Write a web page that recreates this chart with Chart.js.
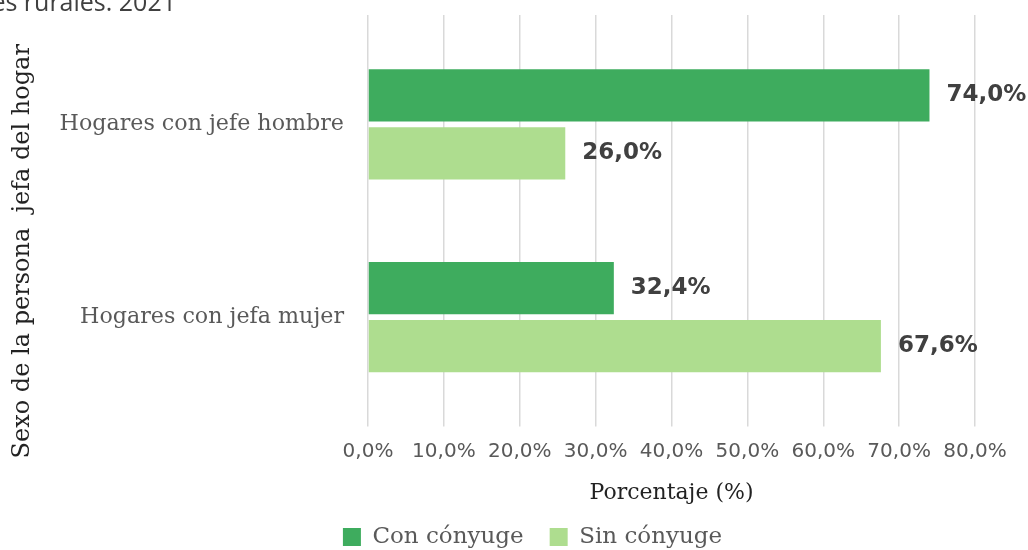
<!DOCTYPE html>
<html>
<head>
<meta charset="utf-8">
<script src="https://cdn.jsdelivr.net/npm/chart.js@4"></script>
<style>
  html, body { margin: 0; padding: 0; background: #fff; overflow: hidden; }
  #wrap { position: relative; width: 1028px; height: 550px; overflow: hidden; }
  #title {
    position: absolute; left: -600px; width: 776px; top: -12px;
    text-align: right; white-space: nowrap;
    font: 25px/26px "Open Sans", sans-serif; color: #404040;
  }
</style>
</head>
<body>
<div id="wrap">
  <div id="title">Distribución de los hogares rurales. 2021</div>
  <canvas id="chart" width="1028" height="550"></canvas>
</div>
<script>
// ==========================
// DATA
// ==========================

const categories = ["Hogares con jefe hombre", "Hogares con jefa mujer"];
const conConyuge = [74.0, 32.4];
const sinConyuge = [26.0, 67.6];
const seriesNames = ["Con cónyuge", "Sin cónyuge"];
const xTicksMax = 80;

// ==========================
// HELPERS
// ==========================

function pct(v){
  return v.toFixed(1).replace(".", ",") + "%";
}

const serif = "'DejaVu Serif', serif";
const sans = "'DejaVu Sans', sans-serif";

// ==========================
// VALUE LABELS
// ==========================

const valueLabels = {
  id: "valueLabels",
  afterDatasetsDraw(chart){
    const ctx = chart.ctx;
    ctx.save();
    ctx.font = "bold 23px " + sans;
    ctx.fillStyle = "#404040";
    ctx.textAlign = "left";
    ctx.textBaseline = "middle";
    chart.data.datasets.forEach((ds, i) => {
      chart.getDatasetMeta(i).data.forEach((bar, j) => {
        ctx.fillText(pct(ds.data[j]), bar.x + 17, bar.y);
      });
    });
    ctx.restore();
  }
};

// ==========================
// CHART
// ==========================

const chart = new Chart(document.getElementById("chart"), {
  type: "bar",
  data: {
    labels: categories,
    datasets: [
      {
        label: seriesNames[0],
        data: conConyuge,
        backgroundColor: "#3EAC5E",
        categoryPercentage: 0.604,
        barPercentage: 0.897
      },
      {
        label: seriesNames[1],
        data: sinConyuge,
        backgroundColor: "#AEDD8F",
        categoryPercentage: 0.604,
        barPercentage: 0.897
      }
    ]
  },
  options: {
    indexAxis: "y",
    responsive: false,
    animation: false,
    layout: { padding: { left: 32, right: -5, top: 15, bottom: -8.5 } },
    scales: {
      x: {
        min: 0,
        max: xTicksMax,
        border: { display: false },
        grid: { color: "#D9D9D9", lineWidth: 1.5, tickLength: 13 },
        ticks: {
          stepSize: 10,
          padding: 13,
          color: "#595959",
          font: { family: sans, size: 20 },
          callback: (v) => pct(v)
        },
        title: {
          display: true,
          text: "Porcentaje (%)",
          color: "#222",
          font: { family: serif, size: 22 },
          padding: { top: 0, bottom: -6.7 }
        },
        afterFit(scale){ scale.height = 86; }
      },
      x2: {
        position: "top",
        min: 0,
        max: xTicksMax,
        border: { display: false },
        grid: { color: "#D9D9D9", lineWidth: 1.5, tickLength: 13, drawOnChartArea: false },
        ticks: { stepSize: 10, display: false }
      },
      y: {
        border: { display: false },
        grid: { display: false, drawTicks: false },
        ticks: {
          padding: 24,
          color: "#595959",
          font: { family: serif, size: 22.2 }
        },
        title: {
          display: true,
          // trailing spaces push the centred title down, as in the original
          text: "Sexo de la persona  jefa del hogar\u00A0\u00A0\u00A0\u00A0\u00A0\u00A0\u00A0\u00A0",
          color: "#222",
          font: { family: serif, size: 24 },
          padding: { top: -24, bottom: 0 }
        },
        afterFit(scale){
          scale.width = 336;
          scale.paddingTop = 0;
          scale.paddingBottom = 0;
        }
      },
      yRight: {
        type: "category",
        position: "right",
        border: { display: false },
        grid: { display: false, drawTicks: false },
        ticks: { display: false },
        afterFit(scale){ scale.width = 58; }
      }
    },
    plugins: {
      legend: {
        position: "bottom",
        labels: {
          boxWidth: 18,
          boxHeight: 18,
          padding: 26,
          color: "#595959",
          font: { family: serif, size: 23 }
        }
      },
      tooltip: { enabled: false }
    }
  },
  plugins: [valueLabels]
});
</script>
</body>
</html>
